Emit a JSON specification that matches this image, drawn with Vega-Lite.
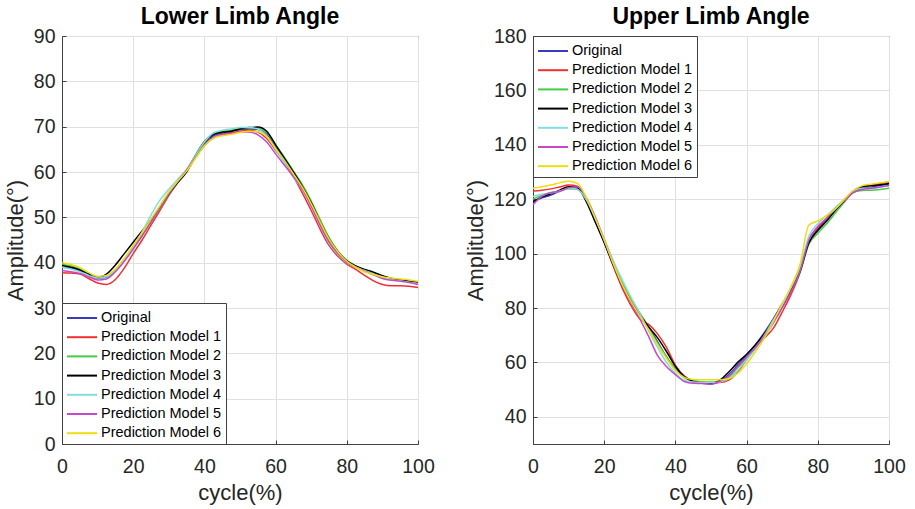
{
  "$schema": "https://vega.github.io/schema/vega-lite/v6.json",
  "background": "white",
  "padding": {"left": 3, "top": 5, "right": 2, "bottom": 2},
  "config": {
    "font": "Liberation Sans",
    "view": {"stroke": "#404040", "strokeWidth": 1},
    "axis": {
      "labelFont": "Liberation Sans",
      "titleFont": "Liberation Sans",
      "labelFontSize": 19.5,
      "titleFontSize": 22,
      "titleFontWeight": "normal",
      "labelColor": "#262626",
      "titleColor": "#262626",
      "domainColor": "#404040",
      "tickColor": "#404040",
      "tickSize": -4,
      "gridColor": "#e0e0e0",
      "gridWidth": 1
    },
    "axisX": {"labelPadding": 17, "titlePadding": 7, "labelFlush": false},
    "axisY": {"labelPadding": 11, "titlePadding": 6, "labelFlush": false},
    "title": {"font": "Liberation Sans", "fontSize": 23, "fontWeight": "bold", "color": "#000000", "offset": -3},
    "legend": {
      "title": null,
      "labelFont": "Liberation Sans",
      "labelFontSize": 14.5,
      "labelColor": "#000000",
      "symbolType": "M-1.5,0H1.5",
      "symbolSize": 400,
      "symbolStrokeWidth": 2,
      "symbolOffset": 5,
      "rowPadding": 1.2,
      "strokeColor": "#404040",
      "fillColor": "white",
      "padding": 4,
      "offset": 0,
      "labelOffset": 8
    }
  },
  "datasets": {
    "lower": [
      {"x":0,"Original":39.0,"Prediction Model 1":37.8,"Prediction Model 2":39.6,"Prediction Model 3":39.4,"Prediction Model 4":39.0,"Prediction Model 5":38.3,"Prediction Model 6":40.0},
      {"x":2.5,"Original":38.8,"Prediction Model 1":37.7,"Prediction Model 2":39.3,"Prediction Model 3":39.0,"Prediction Model 4":38.6,"Prediction Model 5":38.0,"Prediction Model 6":39.6},
      {"x":5,"Original":38.2,"Prediction Model 1":37.5,"Prediction Model 2":38.6,"Prediction Model 3":38.4,"Prediction Model 4":38.0,"Prediction Model 5":37.6,"Prediction Model 6":38.9},
      {"x":7.5,"Original":37.3,"Prediction Model 1":36.5,"Prediction Model 2":37.6,"Prediction Model 3":37.5,"Prediction Model 4":37.2,"Prediction Model 5":36.9,"Prediction Model 6":37.8},
      {"x":10,"Original":36.6,"Prediction Model 1":35.5,"Prediction Model 2":36.8,"Prediction Model 3":36.7,"Prediction Model 4":36.6,"Prediction Model 5":36.2,"Prediction Model 6":37.0},
      {"x":12.5,"Original":36.8,"Prediction Model 1":35.2,"Prediction Model 2":37.0,"Prediction Model 3":37.5,"Prediction Model 4":36.9,"Prediction Model 5":36.4,"Prediction Model 6":37.2},
      {"x":15,"Original":38.3,"Prediction Model 1":36.3,"Prediction Model 2":38.3,"Prediction Model 3":39.5,"Prediction Model 4":38.4,"Prediction Model 5":38.0,"Prediction Model 6":38.6},
      {"x":17.5,"Original":40.5,"Prediction Model 1":38.8,"Prediction Model 2":40.5,"Prediction Model 3":42.0,"Prediction Model 4":40.7,"Prediction Model 5":40.3,"Prediction Model 6":41.0},
      {"x":20,"Original":43.3,"Prediction Model 1":42.0,"Prediction Model 2":43.2,"Prediction Model 3":44.5,"Prediction Model 4":43.6,"Prediction Model 5":43.0,"Prediction Model 6":43.8},
      {"x":22.5,"Original":46.0,"Prediction Model 1":45.0,"Prediction Model 2":46.0,"Prediction Model 3":47.0,"Prediction Model 4":46.8,"Prediction Model 5":46.0,"Prediction Model 6":46.6},
      {"x":25,"Original":49.0,"Prediction Model 1":48.3,"Prediction Model 2":49.0,"Prediction Model 3":49.5,"Prediction Model 4":50.5,"Prediction Model 5":49.0,"Prediction Model 6":49.6},
      {"x":27.5,"Original":52.0,"Prediction Model 1":51.5,"Prediction Model 2":52.0,"Prediction Model 3":52.3,"Prediction Model 4":53.8,"Prediction Model 5":52.2,"Prediction Model 6":52.6},
      {"x":30,"Original":55.0,"Prediction Model 1":54.8,"Prediction Model 2":55.0,"Prediction Model 3":55.2,"Prediction Model 4":56.2,"Prediction Model 5":55.2,"Prediction Model 6":55.6},
      {"x":32.5,"Original":57.7,"Prediction Model 1":57.7,"Prediction Model 2":57.7,"Prediction Model 3":57.7,"Prediction Model 4":58.4,"Prediction Model 5":57.9,"Prediction Model 6":58.0},
      {"x":35,"Original":60.3,"Prediction Model 1":60.4,"Prediction Model 2":60.4,"Prediction Model 3":60.0,"Prediction Model 4":60.6,"Prediction Model 5":60.4,"Prediction Model 6":60.2},
      {"x":37.5,"Original":63.5,"Prediction Model 1":63.4,"Prediction Model 2":63.8,"Prediction Model 3":63.5,"Prediction Model 4":63.6,"Prediction Model 5":63.2,"Prediction Model 6":63.0},
      {"x":40,"Original":66.3,"Prediction Model 1":66.0,"Prediction Model 2":66.8,"Prediction Model 3":66.6,"Prediction Model 4":66.6,"Prediction Model 5":65.8,"Prediction Model 6":65.8},
      {"x":42.5,"Original":68.0,"Prediction Model 1":67.6,"Prediction Model 2":68.4,"Prediction Model 3":68.3,"Prediction Model 4":68.6,"Prediction Model 5":67.5,"Prediction Model 6":67.4},
      {"x":45,"Original":68.6,"Prediction Model 1":68.3,"Prediction Model 2":69.0,"Prediction Model 3":68.8,"Prediction Model 4":69.2,"Prediction Model 5":68.2,"Prediction Model 6":68.0},
      {"x":47.5,"Original":69.0,"Prediction Model 1":68.7,"Prediction Model 2":69.2,"Prediction Model 3":69.0,"Prediction Model 4":69.5,"Prediction Model 5":68.5,"Prediction Model 6":68.3},
      {"x":50,"Original":69.3,"Prediction Model 1":69.0,"Prediction Model 2":69.6,"Prediction Model 3":69.5,"Prediction Model 4":69.8,"Prediction Model 5":68.8,"Prediction Model 6":68.7},
      {"x":52.5,"Original":69.5,"Prediction Model 1":69.2,"Prediction Model 2":69.7,"Prediction Model 3":69.8,"Prediction Model 4":69.8,"Prediction Model 5":68.8,"Prediction Model 6":69.0},
      {"x":55,"Original":69.4,"Prediction Model 1":68.8,"Prediction Model 2":69.7,"Prediction Model 3":69.9,"Prediction Model 4":69.5,"Prediction Model 5":68.2,"Prediction Model 6":68.9},
      {"x":57.5,"Original":68.3,"Prediction Model 1":67.4,"Prediction Model 2":68.8,"Prediction Model 3":69.0,"Prediction Model 4":68.0,"Prediction Model 5":66.6,"Prediction Model 6":67.8},
      {"x":60,"Original":65.5,"Prediction Model 1":64.8,"Prediction Model 2":66.0,"Prediction Model 3":66.0,"Prediction Model 4":65.0,"Prediction Model 5":64.0,"Prediction Model 6":65.2},
      {"x":62.5,"Original":62.8,"Prediction Model 1":62.2,"Prediction Model 2":63.2,"Prediction Model 3":63.0,"Prediction Model 4":62.0,"Prediction Model 5":61.5,"Prediction Model 6":62.5},
      {"x":65,"Original":59.8,"Prediction Model 1":59.0,"Prediction Model 2":60.2,"Prediction Model 3":60.0,"Prediction Model 4":58.8,"Prediction Model 5":59.0,"Prediction Model 6":59.6},
      {"x":67.5,"Original":56.6,"Prediction Model 1":55.4,"Prediction Model 2":57.2,"Prediction Model 3":56.8,"Prediction Model 4":56.2,"Prediction Model 5":56.2,"Prediction Model 6":56.6},
      {"x":70,"Original":53.0,"Prediction Model 1":51.5,"Prediction Model 2":53.6,"Prediction Model 3":53.2,"Prediction Model 4":52.6,"Prediction Model 5":52.4,"Prediction Model 6":53.0},
      {"x":72.5,"Original":48.8,"Prediction Model 1":47.4,"Prediction Model 2":49.5,"Prediction Model 3":49.0,"Prediction Model 4":48.3,"Prediction Model 5":48.3,"Prediction Model 6":49.0},
      {"x":75,"Original":45.0,"Prediction Model 1":43.8,"Prediction Model 2":45.6,"Prediction Model 3":45.2,"Prediction Model 4":44.3,"Prediction Model 5":44.6,"Prediction Model 6":45.2},
      {"x":77.5,"Original":42.3,"Prediction Model 1":41.4,"Prediction Model 2":42.6,"Prediction Model 3":42.4,"Prediction Model 4":41.8,"Prediction Model 5":42.0,"Prediction Model 6":42.4},
      {"x":80,"Original":40.3,"Prediction Model 1":39.7,"Prediction Model 2":40.5,"Prediction Model 3":40.4,"Prediction Model 4":40.0,"Prediction Model 5":40.1,"Prediction Model 6":40.3},
      {"x":82.5,"Original":39.2,"Prediction Model 1":38.5,"Prediction Model 2":39.3,"Prediction Model 3":39.3,"Prediction Model 4":39.0,"Prediction Model 5":39.0,"Prediction Model 6":39.0},
      {"x":85,"Original":38.4,"Prediction Model 1":37.2,"Prediction Model 2":38.4,"Prediction Model 3":38.5,"Prediction Model 4":38.3,"Prediction Model 5":38.1,"Prediction Model 6":38.0},
      {"x":87.5,"Original":37.8,"Prediction Model 1":36.0,"Prediction Model 2":37.7,"Prediction Model 3":37.9,"Prediction Model 4":37.5,"Prediction Model 5":37.3,"Prediction Model 6":37.4},
      {"x":90,"Original":37.0,"Prediction Model 1":35.2,"Prediction Model 2":36.9,"Prediction Model 3":37.1,"Prediction Model 4":36.8,"Prediction Model 5":36.5,"Prediction Model 6":36.9},
      {"x":92.5,"Original":36.5,"Prediction Model 1":34.9,"Prediction Model 2":36.4,"Prediction Model 3":36.5,"Prediction Model 4":36.3,"Prediction Model 5":36.1,"Prediction Model 6":36.6},
      {"x":95,"Original":36.2,"Prediction Model 1":34.9,"Prediction Model 2":36.2,"Prediction Model 3":36.2,"Prediction Model 4":36.0,"Prediction Model 5":35.9,"Prediction Model 6":36.4},
      {"x":97.5,"Original":35.9,"Prediction Model 1":34.8,"Prediction Model 2":35.9,"Prediction Model 3":35.9,"Prediction Model 4":35.7,"Prediction Model 5":35.6,"Prediction Model 6":36.2},
      {"x":100,"Original":35.6,"Prediction Model 1":34.5,"Prediction Model 2":35.5,"Prediction Model 3":35.6,"Prediction Model 4":35.4,"Prediction Model 5":35.2,"Prediction Model 6":35.9}
    ],
    "upper": [
      {"x":0,"Original":119.0,"Prediction Model 1":123.0,"Prediction Model 2":120.0,"Prediction Model 3":119.0,"Prediction Model 4":121.0,"Prediction Model 5":118.0,"Prediction Model 6":124.0},
      {"x":2.5,"Original":120.5,"Prediction Model 1":123.3,"Prediction Model 2":121.5,"Prediction Model 3":120.8,"Prediction Model 4":121.8,"Prediction Model 5":121.0,"Prediction Model 6":124.6},
      {"x":5,"Original":121.5,"Prediction Model 1":123.8,"Prediction Model 2":122.3,"Prediction Model 3":122.0,"Prediction Model 4":122.3,"Prediction Model 5":122.5,"Prediction Model 6":125.2},
      {"x":7.5,"Original":123.0,"Prediction Model 1":124.5,"Prediction Model 2":123.0,"Prediction Model 3":123.3,"Prediction Model 4":123.0,"Prediction Model 5":122.8,"Prediction Model 6":126.0},
      {"x":10,"Original":124.3,"Prediction Model 1":125.2,"Prediction Model 2":123.8,"Prediction Model 3":124.6,"Prediction Model 4":124.0,"Prediction Model 5":124.2,"Prediction Model 6":126.6},
      {"x":12.5,"Original":124.0,"Prediction Model 1":124.8,"Prediction Model 2":123.6,"Prediction Model 3":124.3,"Prediction Model 4":123.6,"Prediction Model 5":124.5,"Prediction Model 6":125.8},
      {"x":15,"Original":119.5,"Prediction Model 1":120.0,"Prediction Model 2":119.5,"Prediction Model 3":119.0,"Prediction Model 4":119.8,"Prediction Model 5":120.5,"Prediction Model 6":120.5},
      {"x":17.5,"Original":112.0,"Prediction Model 1":112.8,"Prediction Model 2":112.5,"Prediction Model 3":111.5,"Prediction Model 4":113.0,"Prediction Model 5":113.5,"Prediction Model 6":113.0},
      {"x":20,"Original":104.5,"Prediction Model 1":104.5,"Prediction Model 2":105.0,"Prediction Model 3":104.0,"Prediction Model 4":105.5,"Prediction Model 5":105.0,"Prediction Model 6":105.0},
      {"x":22.5,"Original":96.5,"Prediction Model 1":95.5,"Prediction Model 2":97.0,"Prediction Model 3":96.0,"Prediction Model 4":97.5,"Prediction Model 5":96.5,"Prediction Model 6":96.5},
      {"x":25,"Original":89.0,"Prediction Model 1":87.5,"Prediction Model 2":89.5,"Prediction Model 3":88.5,"Prediction Model 4":90.5,"Prediction Model 5":88.5,"Prediction Model 6":88.8},
      {"x":27.5,"Original":83.0,"Prediction Model 1":81.0,"Prediction Model 2":83.5,"Prediction Model 3":82.5,"Prediction Model 4":84.0,"Prediction Model 5":82.0,"Prediction Model 6":82.5},
      {"x":30,"Original":78.0,"Prediction Model 1":76.0,"Prediction Model 2":78.0,"Prediction Model 3":77.5,"Prediction Model 4":78.0,"Prediction Model 5":76.0,"Prediction Model 6":77.0},
      {"x":32.5,"Original":73.0,"Prediction Model 1":74.0,"Prediction Model 2":72.5,"Prediction Model 3":73.0,"Prediction Model 4":71.5,"Prediction Model 5":69.5,"Prediction Model 6":72.0},
      {"x":35,"Original":67.5,"Prediction Model 1":70.5,"Prediction Model 2":67.0,"Prediction Model 3":69.0,"Prediction Model 4":65.5,"Prediction Model 5":62.5,"Prediction Model 6":66.5},
      {"x":37.5,"Original":62.0,"Prediction Model 1":65.5,"Prediction Model 2":62.0,"Prediction Model 3":64.0,"Prediction Model 4":60.0,"Prediction Model 5":58.5,"Prediction Model 6":61.5},
      {"x":40,"Original":57.5,"Prediction Model 1":59.0,"Prediction Model 2":57.5,"Prediction Model 3":58.5,"Prediction Model 4":56.0,"Prediction Model 5":55.5,"Prediction Model 6":57.0},
      {"x":42.5,"Original":54.5,"Prediction Model 1":55.0,"Prediction Model 2":54.5,"Prediction Model 3":54.8,"Prediction Model 4":53.5,"Prediction Model 5":53.0,"Prediction Model 6":54.5},
      {"x":45,"Original":53.0,"Prediction Model 1":53.3,"Prediction Model 2":53.3,"Prediction Model 3":53.0,"Prediction Model 4":52.8,"Prediction Model 5":52.3,"Prediction Model 6":53.7},
      {"x":47.5,"Original":52.3,"Prediction Model 1":52.8,"Prediction Model 2":52.8,"Prediction Model 3":52.5,"Prediction Model 4":52.6,"Prediction Model 5":52.2,"Prediction Model 6":53.6},
      {"x":50,"Original":52.0,"Prediction Model 1":52.5,"Prediction Model 2":52.8,"Prediction Model 3":52.3,"Prediction Model 4":52.6,"Prediction Model 5":52.0,"Prediction Model 6":53.6},
      {"x":52.5,"Original":53.0,"Prediction Model 1":52.6,"Prediction Model 2":53.0,"Prediction Model 3":53.5,"Prediction Model 4":52.8,"Prediction Model 5":53.0,"Prediction Model 6":53.6},
      {"x":55,"Original":55.5,"Prediction Model 1":53.5,"Prediction Model 2":54.5,"Prediction Model 3":56.5,"Prediction Model 4":54.0,"Prediction Model 5":55.0,"Prediction Model 6":54.0},
      {"x":57.5,"Original":59.0,"Prediction Model 1":56.5,"Prediction Model 2":58.0,"Prediction Model 3":60.0,"Prediction Model 4":57.0,"Prediction Model 5":58.5,"Prediction Model 6":56.0},
      {"x":60,"Original":62.5,"Prediction Model 1":61.0,"Prediction Model 2":61.5,"Prediction Model 3":63.0,"Prediction Model 4":61.0,"Prediction Model 5":62.0,"Prediction Model 6":59.5},
      {"x":62.5,"Original":66.5,"Prediction Model 1":65.5,"Prediction Model 2":65.5,"Prediction Model 3":66.5,"Prediction Model 4":65.0,"Prediction Model 5":65.5,"Prediction Model 6":64.0},
      {"x":65,"Original":71.0,"Prediction Model 1":69.0,"Prediction Model 2":70.0,"Prediction Model 3":70.5,"Prediction Model 4":70.0,"Prediction Model 5":69.5,"Prediction Model 6":69.0},
      {"x":67.5,"Original":76.0,"Prediction Model 1":72.5,"Prediction Model 2":75.0,"Prediction Model 3":75.0,"Prediction Model 4":75.5,"Prediction Model 5":74.5,"Prediction Model 6":75.0},
      {"x":70,"Original":81.5,"Prediction Model 1":78.5,"Prediction Model 2":80.5,"Prediction Model 3":80.5,"Prediction Model 4":81.0,"Prediction Model 5":80.0,"Prediction Model 6":81.5},
      {"x":72.5,"Original":87.0,"Prediction Model 1":85.0,"Prediction Model 2":86.5,"Prediction Model 3":86.5,"Prediction Model 4":87.5,"Prediction Model 5":86.0,"Prediction Model 6":88.0},
      {"x":75,"Original":94.0,"Prediction Model 1":93.0,"Prediction Model 2":93.0,"Prediction Model 3":93.5,"Prediction Model 4":95.0,"Prediction Model 5":93.5,"Prediction Model 6":96.0},
      {"x":77.5,"Original":104.0,"Prediction Model 1":105.0,"Prediction Model 2":103.5,"Prediction Model 3":104.0,"Prediction Model 4":106.5,"Prediction Model 5":105.0,"Prediction Model 6":110.5},
      {"x":80,"Original":109.0,"Prediction Model 1":109.5,"Prediction Model 2":107.5,"Prediction Model 3":108.5,"Prediction Model 4":111.0,"Prediction Model 5":110.0,"Prediction Model 6":112.0},
      {"x":82.5,"Original":112.5,"Prediction Model 1":113.0,"Prediction Model 2":111.0,"Prediction Model 3":112.0,"Prediction Model 4":114.0,"Prediction Model 5":113.0,"Prediction Model 6":114.0},
      {"x":85,"Original":116.0,"Prediction Model 1":116.5,"Prediction Model 2":115.0,"Prediction Model 3":116.0,"Prediction Model 4":117.0,"Prediction Model 5":116.5,"Prediction Model 6":116.5},
      {"x":87.5,"Original":119.5,"Prediction Model 1":120.0,"Prediction Model 2":119.0,"Prediction Model 3":119.5,"Prediction Model 4":120.0,"Prediction Model 5":119.5,"Prediction Model 6":120.0},
      {"x":90,"Original":122.5,"Prediction Model 1":123.0,"Prediction Model 2":122.5,"Prediction Model 3":122.8,"Prediction Model 4":123.0,"Prediction Model 5":122.5,"Prediction Model 6":123.3},
      {"x":92.5,"Original":124.0,"Prediction Model 1":124.5,"Prediction Model 2":123.2,"Prediction Model 3":124.5,"Prediction Model 4":124.0,"Prediction Model 5":123.6,"Prediction Model 6":125.0},
      {"x":95,"Original":124.5,"Prediction Model 1":125.2,"Prediction Model 2":123.3,"Prediction Model 3":125.0,"Prediction Model 4":124.0,"Prediction Model 5":124.0,"Prediction Model 6":125.5},
      {"x":97.5,"Original":125.0,"Prediction Model 1":125.8,"Prediction Model 2":123.6,"Prediction Model 3":125.3,"Prediction Model 4":124.5,"Prediction Model 5":124.5,"Prediction Model 6":126.0},
      {"x":100,"Original":125.5,"Prediction Model 1":126.3,"Prediction Model 2":124.0,"Prediction Model 3":125.8,"Prediction Model 4":125.0,"Prediction Model 5":125.0,"Prediction Model 6":126.5}
    ]
  },
  "spacing": 28,
  "resolve": {"legend": {"color": "independent"}},
  "hconcat": [
    {
      "title": "Lower Limb Angle",
      "width": 356,
      "height": 408,
      "data": {"name": "lower"},
      "transform": [{"fold": ["Original","Prediction Model 1","Prediction Model 2","Prediction Model 3","Prediction Model 4","Prediction Model 5","Prediction Model 6"], "as": ["series","value"]}],
      "mark": {"type": "line", "interpolate": "monotone", "strokeWidth": 1.5, "clip": true},
      "encoding": {
        "x": {"field": "x", "type": "quantitative", "scale": {"domain": [0,100], "nice": false}, "axis": {"title": "cycle(%)", "values": [0,20,40,60,80,100]}},
        "y": {"field": "value", "type": "quantitative", "scale": {"domain": [0,90], "nice": false}, "axis": {"title": "Amplitude(°)", "values": [0,10,20,30,40,50,60,70,80,90]}},
        "color": {"field": "series", "type": "nominal",
          "scale": {"domain": ["Original","Prediction Model 1","Prediction Model 2","Prediction Model 3","Prediction Model 4","Prediction Model 5","Prediction Model 6"],
                    "range": ["#3a3ac0","#f03030","#44cc44","#000000","#80dede","#c848c8","#eedd10"]},
          "legend": {"orient": "bottom-left"}}
      }
    },
    {
      "title": "Upper Limb Angle",
      "width": 356,
      "height": 408,
      "data": {"name": "upper"},
      "transform": [{"fold": ["Original","Prediction Model 1","Prediction Model 2","Prediction Model 3","Prediction Model 4","Prediction Model 5","Prediction Model 6"], "as": ["series","value"]}],
      "mark": {"type": "line", "interpolate": "monotone", "strokeWidth": 1.5, "clip": true},
      "encoding": {
        "x": {"field": "x", "type": "quantitative", "scale": {"domain": [0,100], "nice": false}, "axis": {"title": "cycle(%)", "values": [0,20,40,60,80,100]}},
        "y": {"field": "value", "type": "quantitative", "scale": {"domain": [30,180], "nice": false}, "axis": {"title": "Amplitude(°)", "values": [40,60,80,100,120,140,160,180]}},
        "color": {"field": "series", "type": "nominal",
          "scale": {"domain": ["Original","Prediction Model 1","Prediction Model 2","Prediction Model 3","Prediction Model 4","Prediction Model 5","Prediction Model 6"],
                    "range": ["#3a3ac0","#f03030","#44cc44","#000000","#80dede","#c848c8","#eedd10"]},
          "legend": {"orient": "top-left"}}
      }
    }
  ]
}
